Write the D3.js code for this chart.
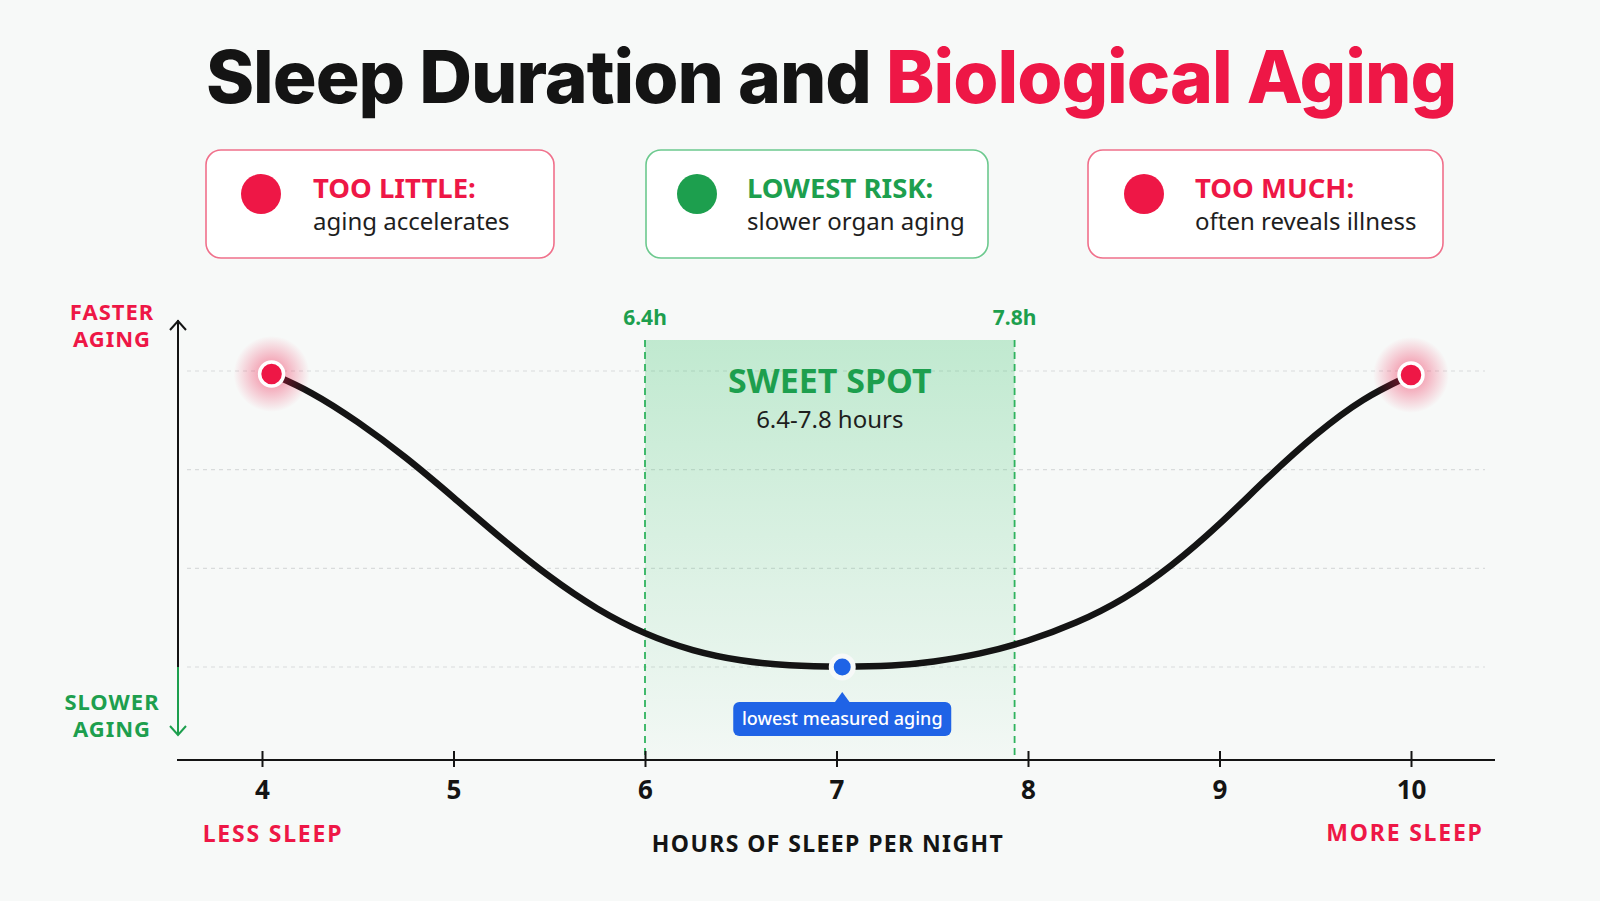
<!DOCTYPE html>
<html>
<head>
<meta charset="utf-8">
<script src="https://cdn.jsdelivr.net/npm/d3@7"></script>
<style>
  html, body { margin: 0; padding: 0; background: #f7f9f8; }
  svg { display: block; }
</style>
</head>
<body>
<div id="chart"></div>
<script>
// Data
const hours = [4.05, 4.25, 4.5, 4.75, 5.0, 5.25, 5.5, 5.75, 6.0, 6.25, 6.5, 6.75, 7.03, 7.3, 7.5, 7.75, 8.0, 8.25, 8.5, 8.75, 9.0, 9.25, 9.5, 9.75, 10.0];
const agingIndex = [2.97, 2.80, 2.49, 2.13, 1.72, 1.30, 0.91, 0.58, 0.33, 0.16, 0.06, 0.01, 0.0, 0.01, 0.05, 0.13, 0.26, 0.44, 0.68, 1.02, 1.44, 1.92, 2.36, 2.73, 2.96];
const xTicks = [4, 5, 6, 7, 8, 9, 10];
const gridValues = [0, 1, 2, 3];
const endPoints = [{ h: 4.05, v: 2.97 }, { h: 10.0, v: 2.96 }];
const lowestPoint = { h: 7.03, v: 0 };
const bandEdges = [6.0, 7.93];
const bandLabels = ['6.4h', '7.8h'];
const cardTitles = ['TOO LITTLE:', 'LOWEST RISK:', 'TOO MUCH:'];
const cardTexts = ['aging accelerates', 'slower organ aging', 'often reveals illness'];
const cardKinds = ['bad', 'good', 'bad'];

const width = 1600;
const height = 901;
const RED = '#ee1746';
const GREEN = '#1d9f4e';
const BLUE = '#1f63e6';
const INK = '#141414';
const BG = '#f7f9f8';
const FONT = '"Noto Sans", "DejaVu Sans", sans-serif';

const svg = d3.select('#chart')
  .append('svg')
  .attr('width', width)
  .attr('height', height)
  .style('background', BG);

const defs = svg.append('defs');

const bandGrad = defs.append('linearGradient')
  .attr('id', 'bandGrad').attr('x1', 0).attr('y1', 0).attr('x2', 0).attr('y2', 1);
bandGrad.append('stop').attr('offset', '0%').attr('stop-color', '#2dbf63').attr('stop-opacity', 0.27);
bandGrad.append('stop').attr('offset', '100%').attr('stop-color', '#2dbf63').attr('stop-opacity', 0.02);

const glow = defs.append('radialGradient').attr('id', 'glow');
glow.append('stop').attr('offset', '25%').attr('stop-color', RED).attr('stop-opacity', 0.4);
glow.append('stop').attr('offset', '100%').attr('stop-color', RED).attr('stop-opacity', 0);

// Title
const title = svg.append('text')
  .attr('x', 831)
  .attr('y', 103)
  .attr('text-anchor', 'middle')
  .attr('font-family', 'Inter, sans-serif')
  .attr('font-weight', 800)
  .attr('font-size', 70)
  .attr('letter-spacing', -1);
title.append('tspan').attr('fill', INK).text('Sleep Duration and ');
title.append('tspan').attr('fill', RED).text('Biological Aging');
const tLen = title.node().getComputedTextLength();
title.attr('font-size', 70 * 1249 / tLen);

// Cards
const cardX = [206, 646, 1088];
const cardW = [348, 342, 355];
const dotX = [55, 51, 56];
const textX = [107, 101, 107];
cardTitles.forEach((t, i) => {
  const col = cardKinds[i] === 'good' ? GREEN : RED;
  const g = svg.append('g').attr('transform', `translate(${cardX[i]},150)`);
  g.append('rect')
    .attr('width', cardW[i]).attr('height', 108)
    .attr('rx', 15)
    .attr('fill', '#ffffff')
    .attr('stroke', cardKinds[i] === 'good' ? '#6cc98e' : '#f0708b')
    .attr('stroke-width', 1.6);
  g.append('circle').attr('cx', dotX[i]).attr('cy', 44).attr('r', 20).attr('fill', col);
  g.append('text')
    .attr('x', textX[i]).attr('y', 48)
    .attr('font-family', FONT).attr('font-weight', 700).attr('font-size', 27.5)
    .attr('fill', col)
    .text(t);
  g.append('text')
    .attr('x', textX[i]).attr('y', 80)
    .attr('font-family', FONT).attr('font-size', 24)
    .attr('fill', '#1e1e1e')
    .text(cardTexts[i]);
});

// Scales
const x = d3.scaleLinear().domain([4, 10]).range([262, 1411]);
const y = d3.scaleLinear().domain([0, 3]).range([667, 371]);
const axisY = 760;

// Gridlines
svg.append('g')
  .selectAll('line')
  .data(gridValues)
  .enter()
  .append('line')
  .attr('x1', 187).attr('x2', 1485)
  .attr('y1', d => y(d)).attr('y2', d => y(d))
  .attr('stroke', '#d9dcdc')
  .attr('stroke-width', 1.2)
  .attr('stroke-dasharray', '4 4');

// Sweet spot band
const bandTop = 340;
svg.append('rect')
  .attr('x', x(bandEdges[0]))
  .attr('y', bandTop)
  .attr('width', x(bandEdges[1]) - x(bandEdges[0]))
  .attr('height', axisY - bandTop)
  .attr('fill', 'url(#bandGrad)');

svg.append('g')
  .selectAll('line')
  .data(bandEdges)
  .enter()
  .append('line')
  .attr('x1', d => x(d)).attr('x2', d => x(d))
  .attr('y1', bandTop).attr('y2', axisY)
  .attr('stroke', '#2fb35e')
  .attr('stroke-width', 1.8)
  .attr('stroke-dasharray', '7 5');

svg.append('g')
  .selectAll('text')
  .data(bandEdges)
  .enter()
  .append('text')
  .attr('x', d => x(d))
  .attr('y', 325)
  .attr('text-anchor', 'middle')
  .attr('font-family', FONT).attr('font-weight', 700).attr('font-size', 21)
  .attr('fill', GREEN)
  .text((d, i) => bandLabels[i]);

const bandMid = (x(bandEdges[0]) + x(bandEdges[1])) / 2;
svg.append('text')
  .attr('x', bandMid).attr('y', 393)
  .attr('text-anchor', 'middle')
  .attr('font-family', FONT).attr('font-weight', 700).attr('font-size', 34)
  .attr('fill', GREEN)
  .text('SWEET SPOT');
svg.append('text')
  .attr('x', bandMid).attr('y', 428)
  .attr('text-anchor', 'middle')
  .attr('font-family', FONT).attr('font-size', 24)
  .attr('fill', '#1e1e1e')
  .text('6.4-7.8 hours');

// Y axis arrows
const yAxisX = 178;
const split = y(0);
svg.append('line')
  .attr('x1', yAxisX).attr('x2', yAxisX).attr('y1', 320).attr('y2', split)
  .attr('stroke', INK).attr('stroke-width', 2);
svg.append('path')
  .attr('d', `M${yAxisX - 8},${330} L${yAxisX},${321} L${yAxisX + 8},${330}`)
  .attr('fill', 'none').attr('stroke', INK).attr('stroke-width', 2);
svg.append('line')
  .attr('x1', yAxisX).attr('x2', yAxisX).attr('y1', split).attr('y2', 734)
  .attr('stroke', GREEN).attr('stroke-width', 2);
svg.append('path')
  .attr('d', `M${yAxisX - 8},${726} L${yAxisX},${735} L${yAxisX + 8},${726}`)
  .attr('fill', 'none').attr('stroke', GREEN).attr('stroke-width', 2);

const yLabel = (lines, col, y0) => {
  lines.forEach((l, i) => {
    svg.append('text')
      .attr('x', 112).attr('y', y0 + i * 27)
      .attr('text-anchor', 'middle')
      .attr('font-family', FONT).attr('font-weight', 700).attr('font-size', 22)
      .attr('letter-spacing', 1)
      .attr('fill', col)
      .text(l);
  });
};
yLabel(['FASTER', 'AGING'], RED, 320);
yLabel(['SLOWER', 'AGING'], GREEN, 710);

// X axis
svg.append('line')
  .attr('x1', 177).attr('x2', 1495).attr('y1', axisY).attr('y2', axisY)
  .attr('stroke', INK).attr('stroke-width', 2.2);

const xAxis = svg.append('g')
  .attr('transform', `translate(0,${axisY})`)
  .call(d3.axisBottom(x).tickValues(xTicks).tickSize(8).tickFormat(d3.format('d')));
xAxis.select('.domain').remove();
xAxis.selectAll('.tick line')
  .attr('y1', -9).attr('y2', 7)
  .attr('stroke', INK).attr('stroke-width', 2);
xAxis.selectAll('.tick text')
  .attr('y', 39).attr('dy', 0)
  .attr('font-family', FONT).attr('font-weight', 700).attr('font-size', 26)
  .attr('fill', INK);

const axisNote = (txt, cx, cy, col, ls) => {
  svg.append('text')
    .attr('x', cx).attr('y', cy)
    .attr('text-anchor', 'middle')
    .attr('font-family', FONT).attr('font-weight', 700).attr('font-size', 23)
    .attr('letter-spacing', ls)
    .attr('fill', col)
    .text(txt);
};
axisNote('LESS SLEEP', 273, 842, RED, 1.8);
axisNote('MORE SLEEP', 1405, 841, RED, 1.8);
axisNote('HOURS OF SLEEP PER NIGHT', 828, 852, INK, 1.4);

// Curve (B-spline through the read points, ends pinned on the dots)
const curveData = hours.map((h, i) => ({ h: h, v: agingIndex[i] }));
const line = d3.line()
  .x(d => x(d.h))
  .y(d => y(d.v))
  .curve(d3.curveBasis);
svg.append('path')
  .datum(curveData)
  .attr('d', line)
  .attr('fill', 'none')
  .attr('stroke', INK)
  .attr('stroke-width', 6.5)
  .attr('stroke-linecap', 'round');

// End points with glow
svg.append('g')
  .selectAll('circle')
  .data(endPoints)
  .enter()
  .append('circle')
  .attr('cx', d => x(d.h)).attr('cy', d => y(d.v))
  .attr('r', 38)
  .attr('fill', 'url(#glow)');
svg.append('g')
  .selectAll('circle')
  .data(endPoints)
  .enter()
  .append('circle')
  .attr('cx', d => x(d.h)).attr('cy', d => y(d.v))
  .attr('r', 12)
  .attr('fill', RED)
  .attr('stroke', '#ffffff')
  .attr('stroke-width', 3.5);

// Lowest point and callout
const lx = x(lowestPoint.h);
const ly = y(lowestPoint.v);
svg.append('circle')
  .attr('cx', lx).attr('cy', ly)
  .attr('r', 11)
  .attr('fill', BLUE)
  .attr('stroke', BG)
  .attr('stroke-width', 5);

const tip = svg.append('g').attr('transform', `translate(${lx},702)`);
tip.append('path')
  .attr('d', 'M-8,1 L0,-10 L8,1 Z')
  .attr('fill', BLUE);
tip.append('rect')
  .attr('x', -109).attr('y', 0)
  .attr('width', 218).attr('height', 34)
  .attr('rx', 6)
  .attr('fill', BLUE);
tip.append('text')
  .attr('x', 0).attr('y', 23)
  .attr('text-anchor', 'middle')
  .attr('font-family', FONT).attr('font-weight', 500).attr('font-size', 18)
  .attr('fill', '#ffffff')
  .text('lowest measured aging');
</script>
</body>
</html>
